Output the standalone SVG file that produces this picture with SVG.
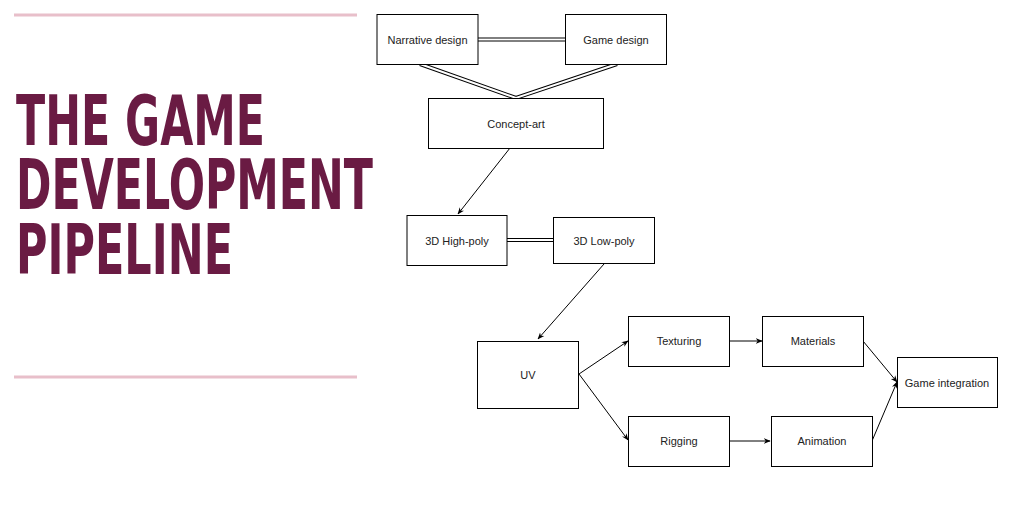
<svg xmlns="http://www.w3.org/2000/svg" width="1024" height="512" viewBox="0 0 1024 512">
<style>
.box{fill:#fff;stroke:#000;stroke-width:1}
.lbl{font-family:"Liberation Sans",Arial,sans-serif;font-size:11px;fill:#222;text-anchor:middle;dominant-baseline:central}
.arr{stroke:#000;stroke-width:1;fill:none;marker-end:url(#ah)}
.link{stroke:#000;stroke-width:4;fill:none}
.linkin{stroke:#fff;stroke-width:2;fill:none}
.rule{stroke:#e8bfca;stroke-width:3}
.title{font-family:"DejaVu Sans",sans-serif;font-weight:bold;font-size:54px;fill:#6a1b43}
</style>
<defs>
<marker id="ah" viewBox="0 0 10 10" refX="9" refY="5" markerWidth="7" markerHeight="7" orient="auto" markerUnits="userSpaceOnUse">
<path d="M0,1 L10,5 L0,9 L3,5 Z" fill="#000"/>
</marker>
</defs>
<rect width="1024" height="512" fill="#fff"/>
<g id="title">
<line class="rule" x1="14" y1="15" x2="357" y2="15"/>
<line class="rule" x1="14" y1="377" x2="357" y2="377"/>
<text class="title" transform="translate(16,145) scale(1,1.295)" x="0" y="0" textLength="249" lengthAdjust="spacingAndGlyphs">THE GAME</text>
<text class="title" transform="translate(16,209) scale(1,1.295)" x="0" y="0" textLength="357" lengthAdjust="spacingAndGlyphs">DEVELOPMENT</text>
<text class="title" transform="translate(16,274) scale(1,1.295)" x="0" y="0" textLength="217" lengthAdjust="spacingAndGlyphs">PIPELINE</text>
</g>
<g id="connectors">
<path class="link" d="M478,39.5 H565"/>
<path class="linkin" d="M478,39.5 H565"/>
<path class="link" d="M420,64 L516,98 L617,64"/>
<path class="linkin" d="M420,64 L516,98 L617,64"/>
<path class="link" d="M507,240 H553"/>
<path class="linkin" d="M507,240 H553"/>
<path class="arr" d="M510,148 L458,214"/>
<path class="arr" d="M604,264 L538,339"/>
<path class="arr" d="M579,374 L628,341"/>
<path class="arr" d="M579,374 L628,440"/>
<path class="arr" d="M730,341 H762"/>
<path class="arr" d="M730,441 H770"/>
<path class="arr" d="M863,341 L897,382"/>
<path class="arr" d="M872,441 L897,382"/>
</g>
<g id="narrative"><rect class="box" x="377" y="14.5" width="101" height="50"/><text class="lbl" x="427.5" y="39.5">Narrative design</text></g>
<g id="gamedesign"><rect class="box" x="565.5" y="14.5" width="101" height="50"/><text class="lbl" x="616" y="39.5">Game design</text></g>
<g id="concept"><rect class="box" x="428.5" y="98.5" width="175" height="50"/><text class="lbl" x="516" y="123.5">Concept-art</text></g>
<g id="highpoly"><rect class="box" x="407" y="215.5" width="100" height="50"/><text class="lbl" x="457" y="240.5">3D High-poly</text></g>
<g id="lowpoly"><rect class="box" x="553.5" y="217.5" width="101" height="46"/><text class="lbl" x="604" y="240.5">3D Low-poly</text></g>
<g id="uv"><rect class="box" x="477.5" y="341.5" width="101" height="67"/><text class="lbl" x="528" y="374.5">UV</text></g>
<g id="texturing"><rect class="box" x="628.5" y="316.5" width="101" height="50"/><text class="lbl" x="679" y="341">Texturing</text></g>
<g id="rigging"><rect class="box" x="628.5" y="416.5" width="101" height="50"/><text class="lbl" x="679" y="441">Rigging</text></g>
<g id="materials"><rect class="box" x="762.5" y="316.5" width="101" height="50"/><text class="lbl" x="813" y="341">Materials</text></g>
<g id="animation"><rect class="box" x="771.5" y="416.5" width="101" height="50"/><text class="lbl" x="822" y="441">Animation</text></g>
<g id="integration"><rect class="box" x="897.5" y="357.5" width="100" height="50"/><text class="lbl" x="947" y="382.5">Game integration</text></g>
</svg>
